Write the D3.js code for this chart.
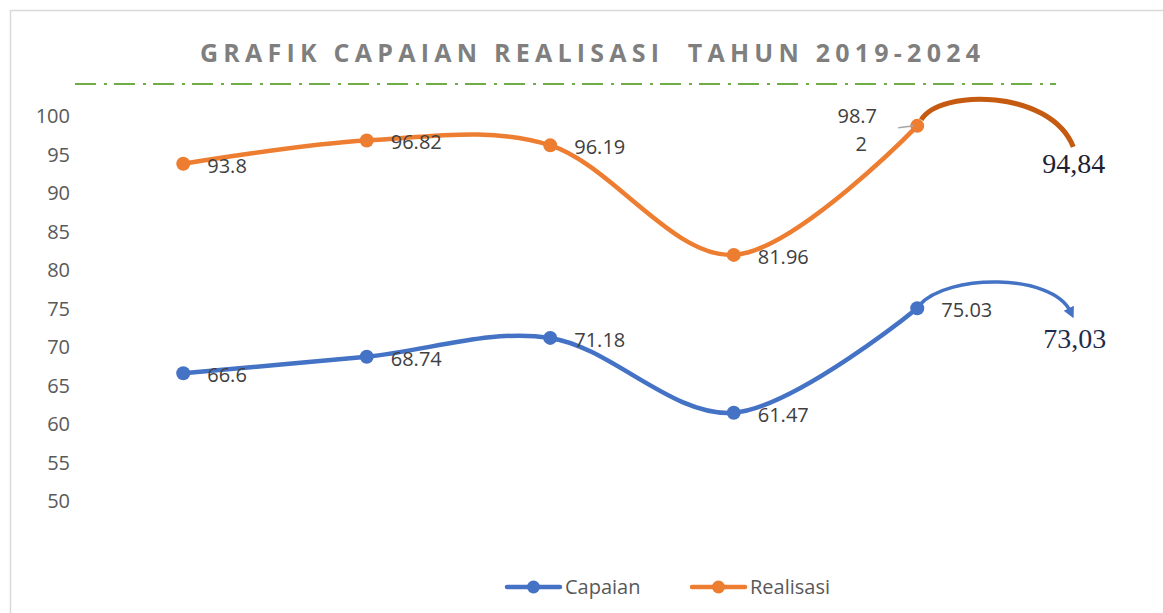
<html>
	<head>
		<title>Grafik Capaian Realisasi</title>
		<style>
			body { margin: 0; background: #fff; }
			svg { display: block; font-family: 'Open Sans', sans-serif; }
		</style>
	</head>
	<body>
		<svg id="chart" width="1163" height="613"></svg>

		<script src="https://cdn.jsdelivr.net/npm/d3@7"></script>
		<script type="text/javascript">

			// data
			var years = ['2019', '2020', '2021', '2022', '2023'];
			var capaian = [66.6, 68.74, 71.18, 61.47, 75.03];
			var realisasi = [93.8, 96.82, 96.19, 81.96, 98.72];
			var yTicks = [50, 55, 60, 65, 70, 75, 80, 85, 90, 95, 100];
			// hand written 2024 notes
			var note2024 = { capaian: '73,03', realisasi: '94,84' };

			var svg = d3.select('#chart');

			var x = d3.scalePoint().domain(years).range([91.5, 1009]).padding(0.5);
			var y = d3.scaleLinear().domain([50, 100]).range([501, 116]);

			// chart frame
			svg.append('rect')
				.attr('x', 10.5).attr('y', 10.5)
				.attr('width', 1180).attr('height', 640)
				.attr('fill', 'none').attr('stroke', '#d9d9d9').attr('stroke-width', 1.5);

			// title
			svg.append('text')
				.attr('x', 590).attr('y', 62)
				.attr('text-anchor', 'middle')
				.attr('font-family', "'Liberation Sans Narrow', 'Open Sans', sans-serif")
				.attr('font-size', 25).attr('font-weight', 'bold')
				.attr('fill', '#7f7f7f')
				.attr('textLength', 780).attr('lengthAdjust', 'spacing')
				.attr('xml:space', 'preserve')
				.text('GRAFIK CAPAIAN REALISASI  TAHUN 2019-2024');

			svg.append('line')
				.attr('x1', 75).attr('x2', 1056).attr('y1', 84).attr('y2', 84)
				.attr('stroke', '#70ad47').attr('stroke-width', 2)
				.attr('stroke-dasharray', '21 8 3 7');

			// y axis labels
			var yAxis = d3.axisLeft(y).tickValues(yTicks).tickSize(0).tickPadding(0);
			var gy = svg.append('g').attr('transform', 'translate(70,0)').call(yAxis);
			gy.select('.domain').remove();
			gy.selectAll('text')
				.attr('font-family', 'Open Sans').attr('font-size', 20)
				.attr('fill', '#595959').attr('dy', '0.34em');

			var line = d3.line()
				.x(function(d, i) { return x(years[i]); })
				.y(function(d) { return y(d); })
				.curve(d3.curveCatmullRom.alpha(0));

			var series = [
				{ name: 'Capaian', values: capaian, color: '#4472c4' },
				{ name: 'Realisasi', values: realisasi, color: '#ed7d31' }
			];

			series.forEach(function(s) {
				svg.append('path')
					.datum(s.values)
					.attr('d', line)
					.attr('fill', 'none')
					.attr('stroke', s.color)
					.attr('stroke-width', 4.5)
					.attr('stroke-linecap', 'round');

				svg.selectAll(null)
					.data(s.values)
					.enter()
					.append('circle')
					.attr('cx', function(d, i) { return x(years[i]); })
					.attr('cy', function(d) { return y(d); })
					.attr('r', 7)
					.attr('fill', s.color);
			});

			// data labels (right of point)
			function labels(values, skipLast) {
				var data = skipLast ? values.slice(0, -1) : values;
				svg.selectAll(null)
					.data(data)
					.enter()
					.append('text')
					.attr('x', function(d, i) { return x(years[i]) + 24; })
					.attr('y', function(d) { return y(d) + 2; })
					.attr('dy', '0.35em')
					.attr('font-size', 20)
					.attr('fill', '#404040')
					.text(function(d) { return d; });
			}
			labels(capaian, false);
			labels(realisasi, true);

			// last realisasi label wrapped to the left with a leader line
			var lx = x(years[4]), ly = y(realisasi[4]);
			svg.append('line')
				.attr('x1', lx - 19).attr('x2', lx - 3)
				.attr('y1', ly + 2).attr('y2', ly)
				.attr('stroke', '#a6a6a6').attr('stroke-width', 1.5);
			var wrap = svg.append('text')
				.attr('text-anchor', 'middle')
				.attr('font-size', 20).attr('fill', '#404040');
			var lastStr = String(realisasi[4]);
			wrap.append('tspan').attr('x', lx - 60).attr('y', ly - 3).text(lastStr.slice(0, 4));
			wrap.append('tspan').attr('x', lx - 56).attr('y', ly + 25).text(lastStr.slice(4));

			// hand drawn arrows to 2024 notes
			svg.append('defs').append('marker')
				.attr('id', 'arrow')
				.attr('viewBox', '0 0 10 10')
				.attr('refX', 3).attr('refY', 5)
				.attr('markerWidth', 3.2).attr('markerHeight', 4.4)
				.attr('orient', 'auto')
				.append('path')
				.attr('d', 'M0,0 L10,5 L0,10 z')
				.attr('fill', '#4472c4');

			var ox = lx, oy = y(realisasi[4]);
			svg.append('path')
				.attr('d', 'M' + (ox + 4) + ',' + (oy - 6) +
					' C' + (ox + 22) + ',' + (oy - 37) + ' ' + (ox + 133) + ',' + (oy - 37) + ' ' + (ox + 156) + ',' + (oy + 21))
				.attr('fill', 'none').attr('stroke', '#c55a11').attr('stroke-width', 5);

			svg.append('text')
				.attr('x', ox + 125).attr('y', oy + 47)
				.attr('font-family', 'Liberation Serif, serif')
				.attr('font-size', 28)
				.attr('fill', '#1f1f33')
				.text(note2024.realisasi);

			var bx = lx, by = y(capaian[4]);
			svg.append('path')
				.attr('d', 'M' + (bx + 2) + ',' + (by - 3) +
					' C' + (bx + 30) + ',' + (by - 35) + ' ' + (bx + 135) + ',' + (by - 35) + ' ' + (bx + 153) + ',' + (by + 3))
				.attr('fill', 'none').attr('stroke', '#4472c4').attr('stroke-width', 3.5)
				.attr('marker-end', 'url(#arrow)');

			svg.append('text')
				.attr('x', bx + 126).attr('y', by + 40)
				.attr('font-family', 'Liberation Serif, serif')
				.attr('font-size', 28)
				.attr('fill', '#1f2d4d')
				.text(note2024.capaian);

			// legend
			var legend = svg.append('g').attr('transform', 'translate(507,587)');
			var legX = [0, 185];
			series.forEach(function(s, i) {
				var g = legend.append('g').attr('transform', 'translate(' + legX[i] + ',0)');
				g.append('line')
					.attr('x1', 0).attr('x2', 53).attr('y1', 0).attr('y2', 0)
					.attr('stroke', s.color).attr('stroke-width', 4.5).attr('stroke-linecap', 'round');
				g.append('circle').attr('cx', 26.5).attr('cy', 0).attr('r', 6.5).attr('fill', s.color);
				g.append('text')
					.attr('x', 58).attr('y', 0).attr('dy', '0.35em')
					.attr('font-size', 20).attr('fill', '#595959')
					.text(s.name);
			});

		</script>
	</body>
</html>
